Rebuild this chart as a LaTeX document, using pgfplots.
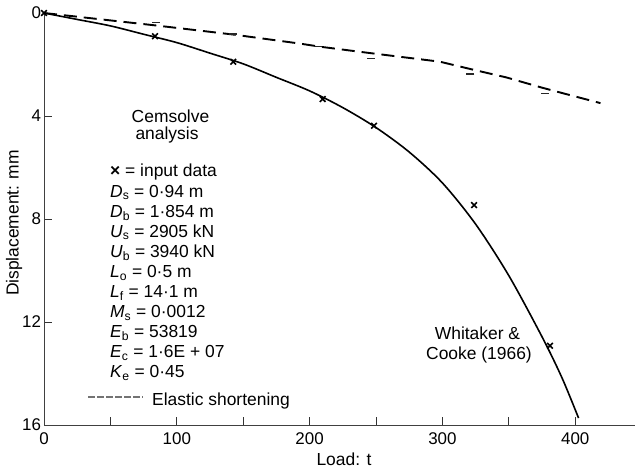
\documentclass[border=0pt]{standalone}
\usepackage{fontspec}
\setmainfont{Liberation Sans}
\usepackage{pgfplots}
\pgfplotsset{compat=1.18}

\pgfplotstableread{
x y
0 0
25 0.25
50 0.50
75 0.825
100 1.15
125 1.56
150 1.975
175 2.50
200 3.025
225 3.675
250 4.45
275 5.40
300 6.60
325 8.20
350 10.20
375 12.575
390 14.165
402.5 15.73
}\cemsolve

\pgfplotstableread{
x y
0 0
83.6 0.9
142.5 1.89
209.8 3.34
248.5 4.38
323.8 7.46
381 12.92
}\inputdata

\pgfplotstableread{
x y
0 0
87 0.5
143 0.84
193 1.19
208 1.31
243 1.54
268 1.70
298 1.89
323 2.2
348 2.5
375 2.9
391 3.12
419 3.5
}\elastic

\pgfplotstableread{
x y
84 0.38
142 0.82
206 1.31
246 1.77
321 2.37
377 3.12
}\elasticpts

\begin{document}
\fontsize{17.5}{20}\selectfont
\begin{tikzpicture}
\path[use as bounding box] (-44bp,-43bp) rectangle (591bp,425bp);
\begin{axis}[
 at={(0,0)}, anchor=south west,
 scale only axis, width=591bp, height=412bp,
 xmin=0, xmax=445, ymin=0, ymax=16, y dir=reverse,
 axis x line=bottom, axis y line=left,
 axis line style={-, black!75, line width=1bp},
 xtick={0,100,...,400}, minor xtick={50,150,250,350},
 ytick={0,4,8,12,16},
 tick align=inside, major tick length=8bp, minor tick length=8bp,
 every tick/.style={black!80, line width=0.9bp},
 /pgf/number format/assume math mode=true,
 ticklabel style={font=\fontsize{17}{18}\selectfont},
 xticklabel style={yshift=-2bp},
 yticklabel style={xshift=3bp},
 clip=false,
]
\addplot[black, line width=1.6bp, smooth] table {\cemsolve};
\addplot[black, only marks, mark=x, mark size=4bp, mark options={line width=1.6bp}] table {\inputdata};
\addplot[black, line width=1.9bp, dash pattern=on 13bp off 7bp] table {\elastic};
\addplot[black!85, only marks, mark=-, mark size=4bp, mark options={line width=1.4bp}] table {\elasticpts};
\end{axis}

\node[rotate=90, anchor=center] at (-30bp,202bp) {Displacement: mm};
\node[anchor=base, inner sep=0pt] at (300bp,-40bp) {Load: t};

\node[anchor=base, inner sep=0pt] at (126.5bp,302bp) {Cemsolve};
\node[anchor=base, inner sep=0pt] at (123bp,285bp) {analysis};

\begin{scope}[every node/.style={anchor=base west, inner sep=0pt}]
\node at (66bp,248bp) {\textbf{×} = input data};
\node at (66bp,227.9bp) {\textit{D}\textsubscript{s} = 0·94 m};
\node at (66bp,207.8bp) {\textit{D}\textsubscript{b} = 1·854 m};
\node at (66bp,187.7bp) {\textit{U}\textsubscript{s} = 2905 kN};
\node at (66bp,167.6bp) {\textit{U}\textsubscript{b} = 3940 kN};
\node at (66bp,147.5bp) {\textit{L}\textsubscript{o} = 0·5 m};
\node at (66bp,127.4bp) {\textit{L}\textsubscript{f} = 14·1 m};
\node at (66bp,107.3bp) {\textit{M}\textsubscript{s} = 0·0012};
\node at (66bp,87.2bp) {\textit{E}\textsubscript{b} = 53819};
\node at (66bp,67.1bp) {\textit{E}\textsubscript{c} = 1·6E + 07};
\node at (66bp,47bp) {\textit{K}\textsubscript{e} = 0·45};
\node at (108bp,20bp) {Elastic shortening};
\end{scope}
\draw[black!55, line width=1.3bp, dash pattern=on 7bp off 2bp] (44bp,28bp) -- (99bp,28bp);

\node[anchor=base, inner sep=0pt] at (433.5bp,85bp) {Whitaker \&};
\node[anchor=base, inner sep=0pt] at (435bp,65bp) {Cooke (1966)};
\end{tikzpicture}
\end{document}
